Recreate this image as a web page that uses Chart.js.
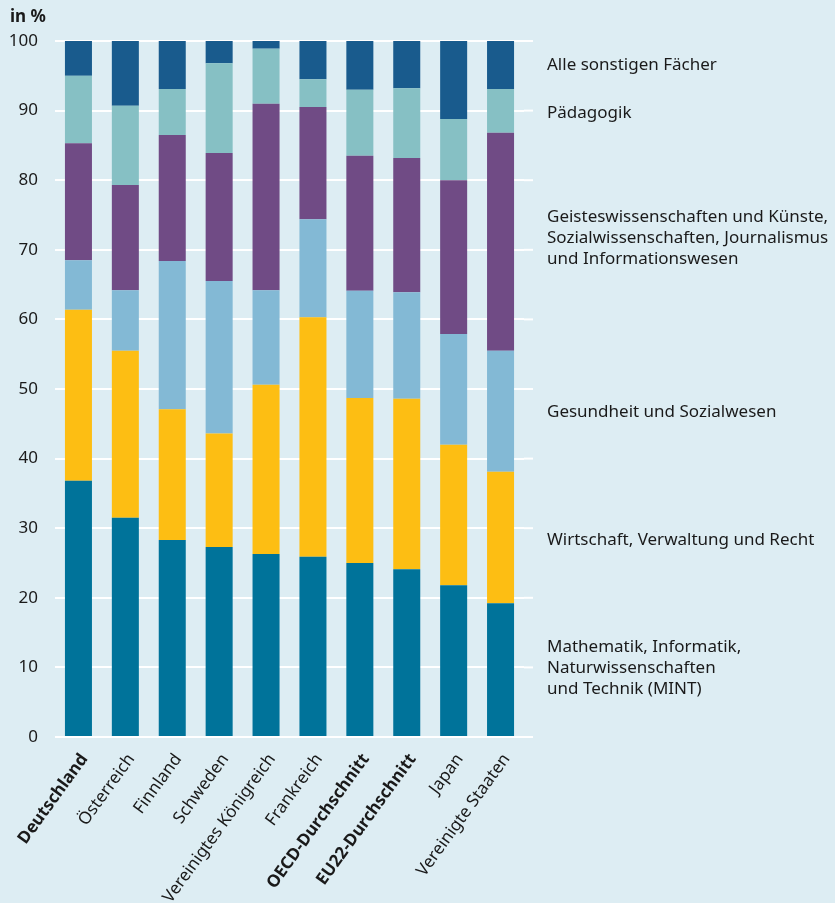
<!DOCTYPE html>
<html>
<head>
<meta charset="utf-8">
<script src="https://cdn.jsdelivr.net/npm/chart.js@4"></script>
<style>
  body { margin: 0; background: #ddedf3; }
  canvas { display: block; }
</style>
</head>
<body>
<canvas id="faecher" width="835" height="903"></canvas>
<script>
const labels = ['Deutschland', 'Österreich', 'Finnland', 'Schweden', 'Vereinigtes Königreich', 'Frankreich', 'OECD-Durchschnitt', 'EU22-Durchschnitt', 'Japan', 'Vereinigte Staaten'];
const boldLabels = ['Deutschland', 'OECD-Durchschnitt', 'EU22-Durchschnitt'];

const mint       = [36.8, 31.5, 28.3, 27.3, 26.3, 25.9, 25.0, 24.1, 21.8, 19.2];
const wirtschaft = [24.6, 24.0, 18.8, 16.3, 24.3, 34.4, 23.7, 24.5, 20.2, 18.9];
const gesundheit = [7.1, 8.7, 21.3, 21.9, 13.6, 14.1, 15.4, 15.3, 15.9, 17.4];
const geistes    = [16.8, 15.1, 18.1, 18.4, 26.8, 16.1, 19.4, 19.3, 22.1, 31.3];
const paedagogik = [9.7, 11.4, 6.6, 12.9, 7.9, 4.0, 9.5, 10.0, 8.8, 6.3];
const sonstige   = [5.0, 9.3, 6.9, 3.2, 1.1, 5.5, 7.0, 6.8, 11.2, 6.9];

// Beschriftung rechts: Textzeilen und Höhe (in %) auf der y-Achse
const legendLines = [
    ['Mathematik, Informatik,', 'Naturwissenschaften', 'und Technik (MINT)'],
    ['Wirtschaft, Verwaltung und Recht'],
    ['Gesundheit und Sozialwesen'],
    ['Geisteswissenschaften und Künste,', 'Sozialwissenschaften, Journalismus', 'und Informationswesen'],
    ['Pädagogik'],
    ['Alle sonstigen Fächer']
];
const legendPos = [9.9, 28.3, 46.7, 71.7, 89.7, 96.6];

const FONT = "'Noto Sans', sans-serif";
const TEXT = '#1a1a1a';

const sideLabels = {
    id: 'sideLabels',
    beforeDatasetsDraw(chart) {
        // Gitterlinien etwas über die Zeichenfläche hinaus verlängern
        const { ctx, chartArea, scales } = chart;
        ctx.save();
        ctx.strokeStyle = '#ffffff';
        ctx.lineWidth = 2;
        scales.y.ticks.forEach(t => {
            const y = scales.y.getPixelForValue(t.value);
            ctx.beginPath();
            ctx.moveTo(chartArea.right, y);
            ctx.lineTo(chartArea.right + 9, y);
            ctx.stroke();
        });
        ctx.restore();
    },
    afterDraw(chart) {
        const { ctx, scales } = chart;
        ctx.save();
        ctx.fillStyle = TEXT;
        ctx.font = 'bold 17px ' + FONT;
        ctx.textAlign = 'left';
        ctx.textBaseline = 'middle';
        ctx.fillText('in %', 10, 17);
        ctx.font = '17px ' + FONT;
        const lh = 21;
        legendLines.forEach((lines, i) => {
            const yc = scales.y.getPixelForValue(legendPos[i]);
            const y0 = yc - (lines.length - 1) * lh / 2;
            lines.forEach((line, j) => ctx.fillText(line, 547, y0 + j * lh));
        });
        ctx.restore();
    }
};

const colors = ['#00739a', '#fdbe13', '#83b9d5', '#704b85', '#86c0c4', '#195b8d'];
const series = [mint, wirtschaft, gesundheit, geistes, paedagogik, sonstige];

new Chart(document.getElementById('faecher').getContext('2d'), {
    type: 'bar',
    data: {
        labels: labels,
        datasets: series.map((d, i) => ({
            label: legendLines[i].join(' '),
            data: d,
            backgroundColor: colors[i],
            borderWidth: 0,
            barPercentage: 0.576,
            categoryPercentage: 1
        }))
    },
    options: {
        responsive: false,
        animation: false,
        layout: { padding: { left: 0, right: 311, top: 41, bottom: 0 } },
        scales: {
            x: {
                stacked: true,
                grid: { display: false },
                border: { display: false },
                ticks: {
                    autoSkip: false,
                    maxRotation: 54,
                    minRotation: 54,
                    padding: 5,
                    labelOffset: 6,
                    color: TEXT,
                    font: (c) => ({
                        family: FONT,
                        size: 17,
                        weight: boldLabels.includes(labels[c.index]) ? 'bold' : 'normal'
                    })
                },
                afterFit: (s) => { s.height = 166; }
            },
            y: {
                stacked: true,
                min: 0,
                max: 100,
                grid: { color: '#ffffff', lineWidth: 2, drawTicks: false },
                border: { display: false },
                ticks: {
                    stepSize: 10,
                    padding: 17,
                    color: TEXT,
                    font: { family: FONT, size: 17 }
                },
                afterFit: (s) => { s.width = 55; }
            }
        },
        plugins: {
            legend: { display: false },
            tooltip: { enabled: false }
        }
    },
    plugins: [sideLabels]
});
</script>
</body>
</html>
